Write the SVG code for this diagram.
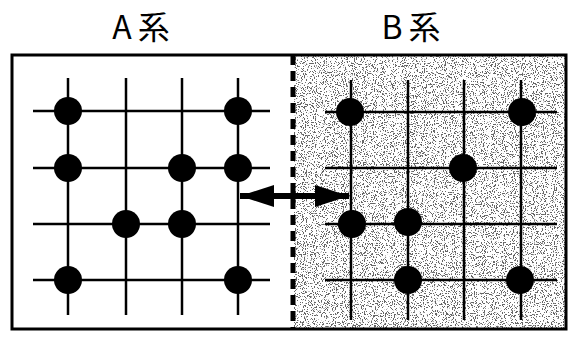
<svg xmlns="http://www.w3.org/2000/svg" width="571" height="338" viewBox="0 0 571 338">
<defs>
<style>
.t{font-family:"Noto Sans CJK JP","Noto Sans CJK SC",sans-serif;font-size:32px;fill:#000;letter-spacing:6px}
.g{stroke:#000;stroke-width:2.5;fill:none}
.d{fill:#000}
</style>
<filter id="noise" x="0" y="0" width="100%" height="100%">
<feTurbulence type="fractalNoise" baseFrequency="0.9" numOctaves="2" seed="3" result="n"/>
<feColorMatrix type="matrix" values="0 0 0 0 0  0 0 0 0 0  0 0 0 0 0  -20 0 0 0 8.6" in="n"/>
</filter>
<marker id="ah" viewBox="0 0 34 22" refX="34" refY="11" markerWidth="34" markerHeight="22" markerUnits="userSpaceOnUse" orient="auto-start-reverse">
<path d="M0,0 L34,11 L0,22 Z" fill="#000"/>
</marker>
</defs>
<rect width="571" height="338" fill="#fff"/>
<text class="t" x="144" y="39" text-anchor="middle">A系</text>
<text class="t" x="414" y="39" text-anchor="middle">B系</text>
<g id="systemB-bg">
<rect x="294" y="55" width="272" height="274" fill="#fff"/>
<rect x="294" y="55" width="272" height="274" fill="#000" filter="url(#noise)" opacity="0.6"/>
</g>
<g id="frame">
<rect x="12" y="55" width="554" height="274" fill="none" stroke="#000" stroke-width="3"/>
<line x1="293" y1="55" x2="293" y2="329" stroke="#000" stroke-width="5" stroke-dasharray="10,6"/>
</g>
<g id="gridA" class="g">
<line x1="68" y1="78" x2="68" y2="315"/><line x1="126" y1="78" x2="126" y2="315"/>
<line x1="182" y1="78" x2="182" y2="315"/><line x1="238" y1="78" x2="238" y2="315"/>
<line x1="33" y1="111" x2="270" y2="111"/><line x1="33" y1="168" x2="270" y2="168"/>
<line x1="33" y1="224" x2="270" y2="224"/><line x1="33" y1="280" x2="270" y2="280"/>
</g>
<g id="dotsA" class="d">
<circle cx="68" cy="111" r="14"/><circle cx="238" cy="111" r="14"/>
<circle cx="68" cy="168" r="14"/><circle cx="182" cy="168" r="14"/><circle cx="238" cy="168" r="14"/>
<circle cx="126" cy="224" r="14"/><circle cx="182" cy="224" r="14"/>
<circle cx="68" cy="280" r="14"/><circle cx="238" cy="280" r="14"/>
</g>
<g id="gridB" class="g">
<line x1="351" y1="80" x2="351" y2="320"/><line x1="408" y1="80" x2="408" y2="320"/>
<line x1="464" y1="80" x2="464" y2="320"/><line x1="521" y1="80" x2="521" y2="320"/>
<line x1="325" y1="112" x2="557" y2="112"/><line x1="325" y1="168" x2="557" y2="168"/>
<line x1="325" y1="224" x2="557" y2="224"/><line x1="325" y1="280" x2="557" y2="280"/>
</g>
<g id="dotsB" class="d">
<circle cx="350" cy="112" r="14"/><circle cx="522" cy="112" r="14"/>
<circle cx="463" cy="168" r="14"/>
<circle cx="352" cy="224" r="14"/><circle cx="408" cy="222" r="14"/>
<circle cx="408" cy="280" r="14"/><circle cx="520" cy="280" r="14"/>
</g>
<g id="connectors">
<line x1="240" y1="196" x2="349" y2="196" stroke="#000" stroke-width="6" marker-start="url(#ah)" marker-end="url(#ah)"/>
</g>
</svg>
